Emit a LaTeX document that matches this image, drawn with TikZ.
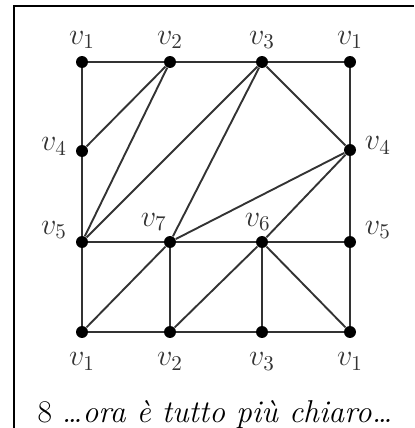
\documentclass[tikz,border=0pt]{standalone}
\usepackage{fontspec}
\begin{document}
\begin{tikzpicture}[x=0.0167cm, y=-0.0167cm, font=\Large,
    vertice/.style={circle, fill=black, inner sep=0pt, minimum size=0.2cm},
    lato/.style={line width=0.9pt, draw=black!80},
    every label/.style={text=black!80, inner sep=1pt}]

% ── Cornice ───────────────────────────────────────────────────
\useasboundingbox (0, 0) rectangle (414, 428);
\draw[line width=1.4pt] (14, 428) -- (14, 6) -- (414, 6);

% ── Vertici: riga superiore ───────────────────────────────────
\node[vertice, label={[label distance=2pt]above:$v_1$}] (t1) at (82, 62) {};
\node[vertice, label={[label distance=2pt]above:$v_2$}] (t2) at (170, 62) {};
\node[vertice, label={[label distance=2pt]above:$v_3$}] (t3) at (262, 62) {};
\node[vertice, label={[label distance=2pt]above:$v_1$}] (t4) at (350, 62) {};

% ── Vertici: lati ─────────────────────────────────────────────
\node[vertice, label={[label distance=0.1cm, yshift=0.08cm]left:$v_4$}]  (l4) at (82, 151) {};
\node[vertice, label={[label distance=0.1cm, yshift=0.08cm]right:$v_4$}] (r4) at (350, 150) {};

% ── Vertici: riga centrale ────────────────────────────────────
\node[vertice, label={[label distance=0.1cm, yshift=0.2cm]left:$v_5$}]  (l5) at (82, 242) {};
\node[vertice, label={[xshift=-0.27cm, label distance=1pt]above:$v_7$}] (m7) at (170, 242) {};
\node[vertice, label={[xshift=-0.07cm, label distance=1pt]above:$v_6$}] (m6) at (262, 242) {};
\node[vertice, label={[label distance=0.1cm, yshift=0.2cm]right:$v_5$}] (r5) at (350, 242) {};

% ── Vertici: riga inferiore ───────────────────────────────────
\node[vertice, label={[label distance=0.2cm]below:$v_1$}] (b1) at (82, 332) {};
\node[vertice, label={[label distance=0.2cm]below:$v_2$}] (b2) at (170, 332) {};
\node[vertice, label={[label distance=0.2cm]below:$v_3$}] (b3) at (262, 332) {};
\node[vertice, label={[label distance=0.2cm]below:$v_1$}] (b4) at (350, 332) {};

% ── Bordo del quadrato ────────────────────────────────────────
\draw[lato] (t1) -- (t2) -- (t3) -- (t4);
\draw[lato] (b1) -- (b2) -- (b3) -- (b4);
\draw[lato] (t1) -- (l4) -- (l5) -- (b1);
\draw[lato] (t4) -- (r4) -- (r5) -- (b4);

% ── Triangolazione in alto ────────────────────────────────────
\draw[lato] (t2) -- (l4);
\draw[lato] (t2) -- (l5);
\draw[lato] (t3) -- (l5);
\draw[lato] (t3) -- (m7);
\draw[lato] (t3) -- (r4);
\draw[lato] (r4) -- (m7);
\draw[lato] (r4) -- (m6);

% ── Triangolazione in basso ───────────────────────────────────
\draw[lato] (l5) -- (m7) -- (m6) -- (r5);
\draw[lato] (m7) -- (b1);
\draw[lato] (m7) -- (b2);
\draw[lato] (m6) -- (b2);
\draw[lato] (m6) -- (b3);
\draw[lato] (m6) -- (b4);

% ── Didascalia ────────────────────────────────────────────────
\node[font=\fontsize{15}{18}\selectfont] (didascalia) at (215, 415)
    {8 \textit{\ldots ora è tutto più chiaro\ldots}};

\end{tikzpicture}
\end{document}
